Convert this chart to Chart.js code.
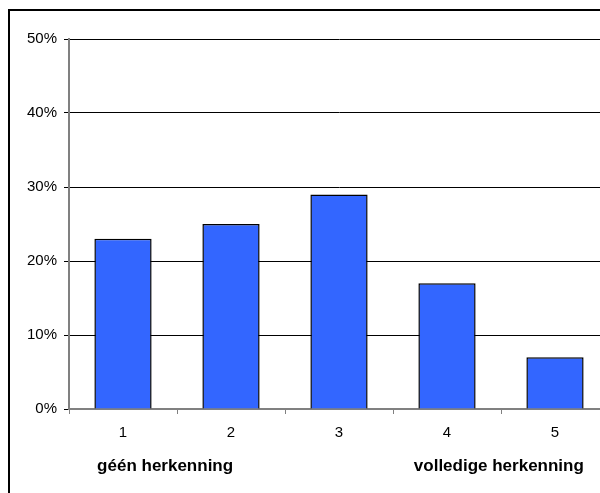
<!DOCTYPE html>
<html>
<head>
<meta charset="utf-8">
<script src="https://cdn.jsdelivr.net/npm/chart.js@4"></script>
<style>
html,body{margin:0;padding:0;background:#fff;overflow:hidden;}
#wrap{position:absolute;left:0;top:0;width:620px;height:493px;}
</style>
</head>
<body>
<div id="wrap"><canvas id="c"></canvas></div>
<script>
const categories = ['1', '2', '3', '4', '5'];
const values = [23, 25, 29, 17, 7];
const yTickLabels = ['0%', '10%', '20%', '30%', '40%', '50%'];
const axisNotes = ['géén herkenning', 'volledige herkenning'];
const axisNoteAt = [0.39, 3.48];

const FONT = '"Liberation Sans", Arial, sans-serif';
Chart.defaults.color = '#000';
Chart.defaults.font.family = FONT;

const framePlugin = {
  id: 'frame',
  afterDraw(chart) {
    const ctx = chart.ctx;
    ctx.save();
    ctx.strokeStyle = '#000';
    ctx.lineWidth = 2;
    ctx.strokeRect(9, 10, 800, 700);
    const xs = chart.scales.x;
    ctx.font = 'bold 17px ' + FONT;
    ctx.fillStyle = '#000';
    ctx.textAlign = 'center';
    ctx.textBaseline = 'middle';
    axisNotes.forEach((t, i) => {
      ctx.fillText(t, xs.getPixelForValue(axisNoteAt[i]), 466);
    });
    ctx.restore();
  }
};

new Chart(document.getElementById('c'), {
  type: 'bar',
  data: {
    labels: categories,
    datasets: [{
      data: values,
      backgroundColor: '#3366FF',
      borderColor: '#000',
      borderWidth: 1.5,
      barPercentage: 0.53,
      categoryPercentage: 1.0
    }]
  },
  options: {
    responsive: true,
    maintainAspectRatio: false,
    animation: false,
    layout: { padding: { left: 0, top: 39, right: 11, bottom: 0 } },
    plugins: { legend: { display: false }, tooltip: { enabled: false } },
    scales: {
      x: {
        grid: { display: true, drawOnChartArea: false, drawTicks: true, tickLength: 5, color: '#808080', offset: true },
        border: { color: '#808080', width: 2 },
        ticks: { font: { size: 15 }, padding: 10, color: '#000' },
        afterFit(s) { s.height = 84; }
      },
      y: {
        min: 0, max: 50,
        ticks: { stepSize: 10, font: { size: 15 }, padding: 7, color: '#000',
          callback: (v, i) => yTickLabels[i] },
        grid: { color: '#000', lineWidth: 1, tickLength: 5, tickColor: '#000' },
        border: { color: '#808080', width: 2 },
        afterFit(s) { s.width = 69; }
      }
    }
  },
  plugins: [framePlugin]
});
</script>
</body>
</html>
